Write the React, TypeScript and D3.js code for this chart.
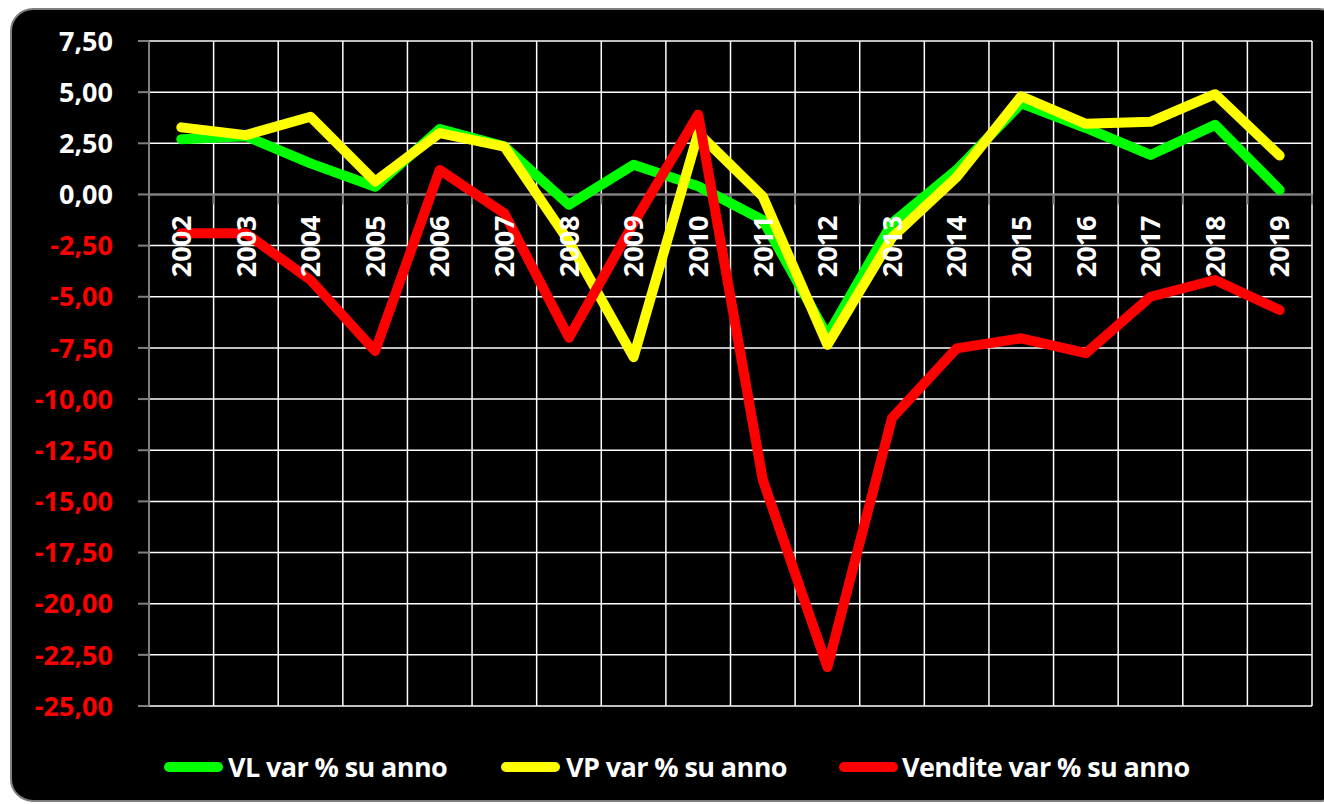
import React from "react";
import * as d3 from "d3";

const years = ["2002","2003","2004","2005","2006","2007","2008","2009","2010","2011","2012","2013","2014","2015","2016","2017","2018","2019"];
const vlValues = [2.7, 2.85, 1.52, 0.38, 3.2, 2.35, -0.5, 1.45, 0.4, -1.25, -6.9, -1.4, 1.2, 4.45, 3.25, 1.93, 3.4, 0.22];
const vpValues = [3.28, 2.9, 3.8, 0.63, 3.0, 2.34, -2.3, -7.95, 3.0, -0.1, -7.35, -2.1, 0.85, 4.8, 3.45, 3.55, 4.9, 1.9];
const venditeValues = [-1.9, -1.9, -4.18, -7.65, 1.2, -0.92, -7.0, -1.41, 3.9, -13.95, -23.1, -10.93, -7.52, -7.03, -7.76, -5.0, -4.18, -5.65];
const yTickValues = [7.5, 5, 2.5, 0, -2.5, -5, -7.5, -10, -12.5, -15, -17.5, -20, -22.5, -25];

const seriesNames = ["VL var % su anno", "VP var % su anno", "Vendite var % su anno"];
const seriesColors = ["#00FF00", "#FFFF00", "#FF0000"];
const seriesData = [vlValues, vpValues, venditeValues];

const W = 1324, H = 804;
const M = { left: 149, right: 1312, top: 41, bottom: 706 };
const FONT = "'Open Sans', 'DejaVu Sans', sans-serif";

const locale = d3.formatLocale({ decimal: ",", thousands: ".", grouping: [3], currency: ["€", ""], minus: "-" });
const fmt = locale.format(".2f");

export default function App() {
  const x = d3.scaleBand().domain(years).range([M.left, M.right]);
  const y = d3.scaleLinear().domain([-25, 7.5]).range([M.bottom, M.top]);
  const line = (vals: number[]) =>
    d3.line<number>().x((_, i) => (x(years[i]) as number) + x.bandwidth() / 2).y((v) => y(v))(vals) as string;

  const boundaries = d3.range(years.length + 1).map((i) => M.left + i * x.bandwidth());

  const legendItems = [
    { sx: 165, tx: 228 },
    { sx: 502, tx: 566 },
    { sx: 840, tx: 902 },
  ];

  return (
    <svg width={W} height={H} style={{ position: "absolute", left: 0, top: 0, display: "block" }} fontFamily={FONT}>
      <rect x={0} y={0} width={W} height={H} fill="#ffffff" />
      <rect x={11} y={9} width={1330} height={792} rx={22} ry={22} fill="#000000" stroke="#808080" strokeWidth={2} />
      {/* horizontal grid */}
      {yTickValues.map((t) => (
        <line key={"h" + t} x1={M.left} x2={M.right} y1={y(t)} y2={y(t)} stroke="#ffffff" strokeWidth={1.5} />
      ))}
      {/* vertical grid */}
      {boundaries.map((bx, i) => (
        <line key={"v" + i} x1={bx} x2={bx} y1={M.top} y2={M.bottom} stroke="#ffffff" strokeWidth={1.5} />
      ))}
      {/* y axis */}
      <line x1={M.left} x2={M.left} y1={M.top} y2={M.bottom} stroke="#808080" strokeWidth={2} />
      {yTickValues.map((t) => (
        <line key={"yt" + t} x1={M.left - 11} x2={M.left} y1={y(t)} y2={y(t)} stroke="#808080" strokeWidth={2} />
      ))}
      {/* x axis at zero */}
      <line x1={M.left} x2={M.right} y1={y(0)} y2={y(0)} stroke="#808080" strokeWidth={2} />
      {boundaries.map((bx, i) => (
        <line key={"xt" + i} x1={bx} x2={bx} y1={y(0)} y2={y(0) + 10} stroke="#808080" strokeWidth={2} />
      ))}
      {/* y tick labels */}
      {yTickValues.map((t) => (
        <text key={"yl" + t} x={113} y={y(t)} dy="0.36em" textAnchor="end" fontSize={27} fontWeight="bold"
          fill={t < 0 ? "#FF0000" : "#ffffff"}>
          {fmt(t)}
        </text>
      ))}
      {/* series lines */}
      {seriesData.map((vals, si) => (
        <path key={"s" + si} d={line(vals)} fill="none" stroke={seriesColors[si]} strokeWidth={10}
          strokeLinejoin="round" strokeLinecap="round" />
      ))}
      {/* x labels (drawn above the lines, as in the reference) */}
      {years.map((yr) => {
        const cx = (x(yr) as number) + x.bandwidth() / 2;
        return (
          <text key={"xl" + yr} transform={`translate(${cx},${y(0) + 21}) rotate(-90)`} dy="0.36em" textAnchor="end"
            fontSize={27} fontWeight="bold" fill="#ffffff">
            {yr}
          </text>
        );
      })}
      {/* legend */}
      {legendItems.map((it, si) => (
        <g key={"lg" + si}>
          <line x1={it.sx + 4} x2={it.sx + 53} y1={767} y2={767} stroke={seriesColors[si]} strokeWidth={10} strokeLinecap="round" />
          <text x={it.tx} y={767} dy="0.36em" fontSize={27} fontWeight="bold" fill="#ffffff" letterSpacing={-0.6}>
            {seriesNames[si]}
          </text>
        </g>
      ))}
    </svg>
  );
}
